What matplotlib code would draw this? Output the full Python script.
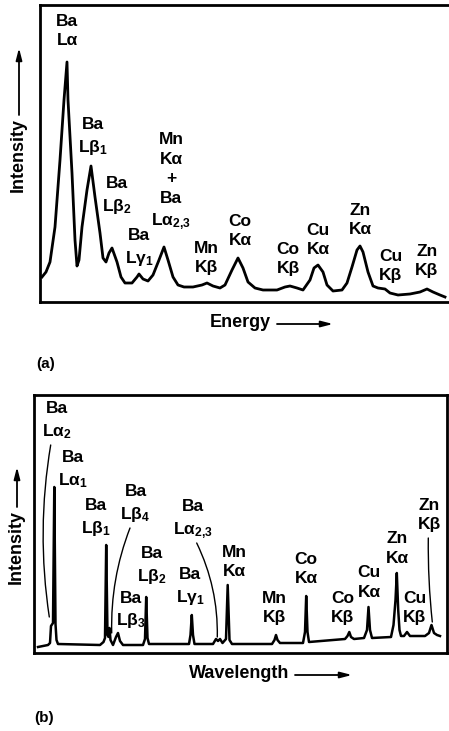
import matplotlib.pyplot as plt

plt.rcParams['font.family'] = ['Liberation Sans', 'DejaVu Sans']
plt.rcParams['font.weight'] = 'bold'
plt.rcParams['mathtext.default'] = 'regular'

# ---- (a) energy spectrum ----
energy = [2, 6, 10, 15, 20, 24, 27, 28, 32, 35, 37, 39, 42, 47, 51, 55, 60, 63, 66, 69,
          72, 77, 81, 85, 92, 97, 99, 103, 108, 113, 119, 124, 128, 133, 138, 144,
          153, 162, 167, 173, 180, 185, 192, 198, 203, 208, 215, 223, 237, 245, 250,
          257, 263, 270, 274, 278, 283, 287, 293, 302, 307, 312, 317, 320, 323, 328,
          333, 338, 345, 350, 358, 370, 380, 387, 393, 400, 405]
counts_a = [25, 30, 40, 75, 142, 202, 240, 202, 129, 62, 36, 42, 75, 112, 136, 105, 69, 44, 40, 49,
            54, 40, 25, 19, 19, 25, 28, 23, 21, 27, 42, 55, 42, 25, 17, 15,
            15, 17, 19, 16, 14, 17, 32, 44, 34, 20, 14, 12, 12, 15, 16,
            14, 12, 22, 34, 37, 30, 17, 11, 12, 19, 35, 52, 56, 50, 30,
            16, 14, 13, 9, 7, 8, 10, 13, 10, 7, 5]

labels_a = ['Ba\nLα', 'Ba\nLβ$_1$', 'Ba\nLβ$_2$', 'Ba\nLγ$_1$',
            'Mn\nKα\n+\nBa\nLα$_{2{,}3}$', 'Mn\nKβ', 'Co\nKα', 'Co\nKβ',
            'Cu\nKα', 'Zn\nKα', 'Cu\nKβ', 'Zn\nKβ']
label_pos_a = [(27, 271), (53, 165), (77, 106), (99, 54), (131, 120), (166, 44),
               (200, 71), (248, 43), (278, 62), (320, 82), (351, 36), (387, 41)]

# ---- (b) wavelength spectrum ----
wavelength = [4, 14, 16, 17, 19, 20.3, 21.5, 22.5, 24, 66, 69.5, 71, 72.2, 73.5, 74.5, 75.5,
              76.5, 79, 82, 84, 86, 89, 109, 111, 112.2, 113.5, 115, 155, 156.5, 157.8,
              159, 160.5, 179, 182, 184, 186, 188.5, 192, 193.7, 195.5, 198, 238, 240.5,
              242, 243.5, 246, 269, 271, 272.2, 273.5, 275, 311, 313.5, 315.3, 317, 320,
              330, 333, 334.5, 336, 338, 357, 359.5, 361.5, 362.8, 364.2, 365.5, 367, 370, 373,
              376, 391, 395, 397.5, 400, 403, 406]
counts_b = [6, 8, 10, 27, 30, 166, 29, 13, 9, 8, 11, 15, 108, 18, 16, 25,
            13, 8, 16, 20, 12, 8, 8, 14, 56, 15, 9, 9, 18, 38,
            18, 9, 9, 14, 12, 14, 10, 14, 68, 13, 9, 9, 13,
            18, 13, 10, 10, 21, 57, 21, 11, 14, 17, 21, 16, 14,
            15, 23, 46, 23, 15, 16, 28, 53, 80, 43, 23, 17, 17, 21,
            17, 17, 20, 28, 20, 18, 17]

labels_b = ['Ba\nLα$_2$', 'Ba\nLα$_1$', 'Ba\nLβ$_1$', 'Ba\nLβ$_4$', 'Ba\nLβ$_3$',
            'Ba\nLβ$_2$', 'Ba\nLγ$_1$', 'Ba\nLα$_{2{,}3}$', 'Mn\nKα', 'Mn\nKβ',
            'Co\nKα', 'Co\nKβ', 'Cu\nKα', 'Zn\nKα', 'Cu\nKβ', 'Zn\nKβ']
label_pos_b = [(23, 232), (38.5, 183), (62, 135), (101.5, 149), (96.7, 42.5),
               (117.7, 87), (156, 66), (159, 133), (200.7, 91), (240.7, 45),
               (272, 84), (308.7, 45), (335.3, 70.5), (363.3, 104.5), (380.7, 45),
               (395.3, 138)]
# leader lines: (label end, peak end, curvature)
leaders_b = [((16.7, 208), (15.3, 36), 0.08),
             ((96, 125), (77.7, 20), 0.1),
             ((162.7, 110), (183.3, 16), -0.12),
             ((394.3, 115), (398.3, 31), 0.03)]

W, H = 449, 731
fig = plt.figure(figsize=(W / 100, H / 100), dpi=100)


def fpos(px, py):
    return px / W, 1 - py / H


def panel(rect, x, y, lw, xmax, ymax):
    ax = fig.add_axes(rect)
    ax.plot(x, y, color='black', lw=lw, solid_joinstyle='round')
    ax.set_xlim(0, xmax)
    ax.set_ylim(0, ymax)
    ax.set_xticks([])
    ax.set_yticks([])
    for s in ax.spines.values():
        s.set_linewidth(2.0)
    return ax


ax_a = panel([40 / W, 1 - 302 / H, 415 / W, 297 / H], energy, counts_a, 2.0, 415, 297)
ax_b = panel([34 / W, 1 - 653 / H, 413 / W, 258 / H], wavelength, counts_b, 1.8, 413, 258)

FS = 12.5
LS = 1.4
for lab, (x, y) in zip(labels_a, label_pos_a):
    ax_a.text(x, y, lab, ha='center', va='center', fontsize=FS, linespacing=LS)
for lab, (x, y) in zip(labels_b, label_pos_b):
    ax_b.text(x, y, lab, ha='center', va='center', fontsize=FS, linespacing=LS)
for start, end, rad in leaders_b:
    ax_b.annotate('', xy=end, xytext=start,
                  arrowprops=dict(arrowstyle='-', lw=1.0, color='black',
                                  connectionstyle=f'arc3,rad={rad}',
                                  shrinkA=0, shrinkB=0))

arrow = dict(arrowstyle='-|>,head_length=0.7,head_width=0.18', lw=1.3,
             color='black', shrinkA=0, shrinkB=0)

# y axis titles with arrows
fig.text(*fpos(18, 155), 'Intensity', rotation=90, ha='center', va='center', fontsize=13)
fig.add_artist(plt.Annotation('', xy=fpos(19, 48), xytext=fpos(19, 115),
                              xycoords='figure fraction', arrowprops=arrow))
fig.text(*fpos(16, 547), 'Intensity', rotation=90, ha='center', va='center', fontsize=13)
fig.add_artist(plt.Annotation('', xy=fpos(17, 467), xytext=fpos(17, 507),
                              xycoords='figure fraction', arrowprops=arrow))

# x axis titles with arrows
fig.text(*fpos(240, 322), 'Energy', ha='center', va='center', fontsize=13)
fig.add_artist(plt.Annotation('', xy=fpos(333, 324), xytext=fpos(277, 324),
                              xycoords='figure fraction', arrowprops=arrow))
fig.text(*fpos(239, 673), 'Wavelength', ha='center', va='center', fontsize=13)
fig.add_artist(plt.Annotation('', xy=fpos(352, 675), xytext=fpos(295, 675),
                              xycoords='figure fraction', arrowprops=arrow))

fig.text(*fpos(46, 364), '(a)', ha='center', va='center', fontsize=11)
fig.text(*fpos(44, 718), '(b)', ha='center', va='center', fontsize=11)

fig.savefig('out.png', dpi=100)
